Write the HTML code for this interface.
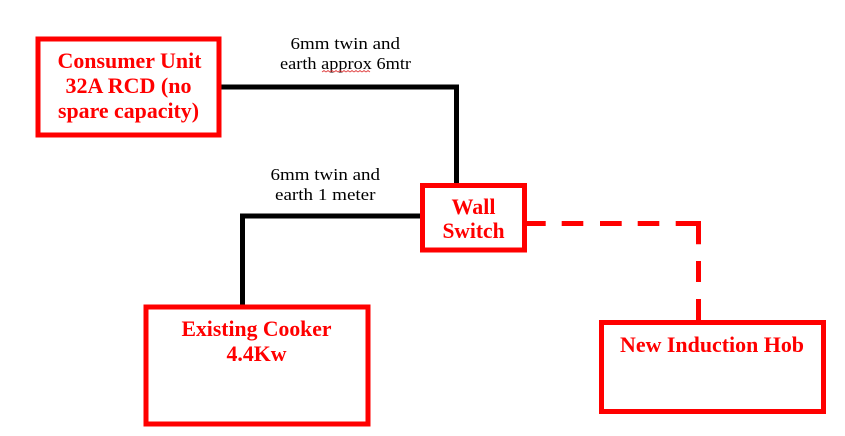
<!DOCTYPE html>
<html>
<head>
<meta charset="utf-8">
<style>
html,body{margin:0;padding:0;background:#fff;width:845px;height:436px;overflow:hidden}
svg{display:block}
.r{font-family:"Liberation Serif",serif;font-weight:bold;font-size:22px;fill:#ff0000}
.k{font-family:"Liberation Serif",serif;font-size:17px;fill:#000}
</style>
</head>
<body>
<svg width="845" height="436" viewBox="0 0 845 436" xmlns="http://www.w3.org/2000/svg">
<rect width="845" height="436" fill="#fff"/>
<g fill="none" stroke="#000" stroke-width="5">
<path d="M219 87H456.500V185"/>
<path d="M422 216H242.500V306"/>
</g>
<g fill="none" stroke="#ff0000" stroke-width="5">
<path d="M526 223.500H545.700M561.700 223.500H583.300M600 223.500H621.700M637.700 223.500H659.300M675.700 223.500H698.500V244.300M698.500 261V282M698.500 299V321"/>
<rect x="38" y="39" width="181" height="96"/>
<rect x="422.500" y="185.500" width="102" height="64.500"/>
<rect x="146" y="307" width="222" height="117"/>
<rect x="601.500" y="322.500" width="222" height="89"/>
</g>
<text class="r" x="57.500" y="68" textLength="144" lengthAdjust="spacingAndGlyphs">Consumer Unit</text>
<text class="r" x="65.500" y="93" textLength="126" lengthAdjust="spacingAndGlyphs">32A RCD (no</text>
<text class="r" x="58" y="118" textLength="141" lengthAdjust="spacingAndGlyphs">spare capacity)</text>
<text class="r" x="451.500" y="214" textLength="44" lengthAdjust="spacingAndGlyphs">Wall</text>
<text class="r" x="442.500" y="238" textLength="62" lengthAdjust="spacingAndGlyphs">Switch</text>
<text class="r" x="181.500" y="336" textLength="150" lengthAdjust="spacingAndGlyphs">Existing Cooker</text>
<text class="r" x="226.500" y="361" textLength="60" lengthAdjust="spacingAndGlyphs">4.4Kw</text>
<text class="r" x="620" y="352" textLength="184" lengthAdjust="spacingAndGlyphs">New Induction Hob</text>
<text class="k" x="290.500" y="49" textLength="109.500" lengthAdjust="spacingAndGlyphs">6mm twin and</text>
<text class="k" x="280" y="69" textLength="131" lengthAdjust="spacingAndGlyphs">earth approx 6mtr</text>
<path d="M322 72l2-1.500 2 1.500 2-1.500 2 1.500 2-1.500 2 1.500 2-1.500 2 1.500 2-1.500 2 1.500 2-1.500 2 1.500 2-1.500 2 1.500 2-1.500 2 1.500 2-1.500 2 1.500 2-1.500 2 1.500 2-1.500 2 1.500 2-1.500 2 1.500" fill="none" stroke="#e04040" stroke-width="0.800"/>
<text class="k" x="270.500" y="180" textLength="109.500" lengthAdjust="spacingAndGlyphs">6mm twin and</text>
<text class="k" x="275" y="200" textLength="100.500" lengthAdjust="spacingAndGlyphs">earth 1 meter</text>
</svg>
</body>
</html>
